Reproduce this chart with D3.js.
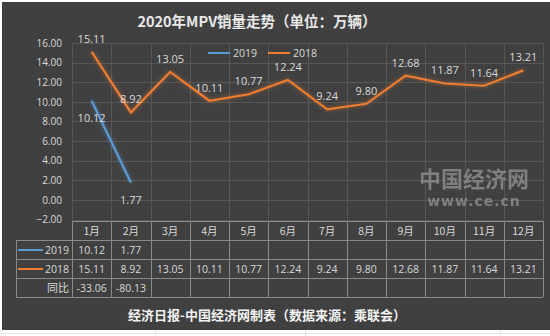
<!DOCTYPE html>
<html><head><meta charset="utf-8">
<script src="https://cdn.jsdelivr.net/npm/d3@7"></script>
<style>body{margin:0;background:#fff}svg{display:block}</style>
</head><body><svg id="c" width="550" height="336"></svg>
<script>
const months = ["1月","2月","3月","4月","5月","6月","7月","8月","9月","10月","11月","12月"];
const s2019 = [10.12, 1.77];
const s2018 = [15.11, 8.92, 13.05, 10.11, 10.77, 12.24, 9.24, 9.80, 12.68, 11.87, 11.64, 13.21];
const yoy = [-33.06, -80.13];
const yTicks = [-2,0,2,4,6,8,10,12,14,16];
const title = "2020年MPV销量走势（单位：万辆）";
const footer = "经济日报-中国经济网制表（数据来源：乘联会）";

const svg = d3.select("#c");
const numFont = "'Open Sans','Noto Sans',sans-serif";
const cjk = "'Noto Sans CJK SC',sans-serif";
const BLUE = "#5B9BD5", ORANGE = "#ED7D31";
const txt = "#d9d9d9", grid = "#575757", tbl = "#8a8a8a";

// outer excel-like grid
[20, 60, 120, 180, 240, 300].forEach(x=>{});
svg.append("line").attr("x1",0).attr("x2",550).attr("y1",333.5).attr("y2",333.5).attr("stroke","#e4e4e4");
[155, 305, 500].forEach(x=>svg.append("line").attr("x1",x+.5).attr("x2",x+.5).attr("y1",330).attr("y2",336).attr("stroke","#e4e4e4"));
svg.append("rect").attr("x",2).attr("y",2).attr("width",548).attr("height",328).attr("fill","#404040");

const defs = svg.append("defs");
function glow(id,color){
  const f = defs.append("filter").attr("id",id).attr("x","-20%").attr("y","-20%").attr("width","140%").attr("height","140%");
  f.append("feGaussianBlur").attr("in","SourceAlpha").attr("stdDeviation",2.2).attr("result","b");
  f.append("feFlood").attr("flood-color",color).attr("flood-opacity",0.55);
  f.append("feComposite").attr("in2","b").attr("operator","in").attr("result","g");
  const m = f.append("feMerge"); m.append("feMergeNode").attr("in","g"); m.append("feMergeNode").attr("in","SourceGraphic");
}
glow("gb",BLUE); glow("go",ORANGE);

const L=72, R=543, T=43, B=219.5;
const x = d3.scaleBand().domain(months).range([L,R]);
const y = d3.scaleLinear().domain([-2,16]).range([B,T]);

// title
svg.append("text").attr("x",257).attr("y",27).attr("text-anchor","middle").attr("fill","#e8e8e8")
  .attr("font-family",cjk).attr("font-weight","bold").attr("font-size",14.5).text(title);

// gridlines
svg.append("g").selectAll("line").data(yTicks).join("line")
  .attr("x1",L).attr("x2",R).attr("y1",d=>Math.round(y(d))+.5).attr("y2",d=>Math.round(y(d))+.5).attr("stroke",grid);
svg.append("g").selectAll("line").data(months.concat(["end"])).join("line")
  .attr("x1",(d,i)=>Math.round(L+i*x.bandwidth())+.5).attr("x2",(d,i)=>Math.round(L+i*x.bandwidth())+.5)
  .attr("y1",T).attr("y2",B).attr("stroke",grid);

// y axis labels
const yAxis = d3.axisLeft(y).tickValues(yTicks).tickFormat(d3.format(".2f")).tickSize(0).tickPadding(10);
const ya = svg.append("g").attr("transform",`translate(${L},0)`).call(yAxis);
ya.select(".domain").remove();
ya.selectAll("text").attr("fill",txt).attr("font-family",numFont).attr("font-size",10);

// watermark
svg.append("text").attr("x",474).attr("y",187).attr("text-anchor","middle").attr("fill","#8a8a8a").attr("opacity",0.85)
  .attr("font-family",cjk).attr("font-weight","bold").attr("font-size",22).text("中国经济网");
svg.append("text").attr("x",474).attr("y",206).attr("text-anchor","middle").attr("fill","#8a8a8a").attr("opacity",0.85)
  .attr("font-family","'DejaVu Sans',sans-serif").attr("font-weight","bold").attr("font-size",14).attr("letter-spacing",1).text("www.ce.cn");

// lines
const cx = d => x(d)+x.bandwidth()/2;
const line = d3.line().x((d,i)=>cx(months[i])).y(d=>y(d));
svg.append("path").datum(s2018).attr("d",line).attr("fill","none").attr("stroke",ORANGE).attr("stroke-width",2.2).attr("filter","url(#go)");
svg.append("path").datum(s2019).attr("d",line).attr("fill","none").attr("stroke",BLUE).attr("stroke-width",2.2).attr("filter","url(#gb)");

// data labels
svg.append("g").selectAll("text").data(s2018).join("text")
  .attr("x",(d,i)=>cx(months[i])).attr("y",d=>y(d)-9).attr("text-anchor","middle")
  .attr("fill",txt).attr("font-family",numFont).attr("font-size",11).text(d=>d.toFixed(2));
svg.append("g").selectAll("text").data(s2019).join("text")
  .attr("x",(d,i)=>cx(months[i])).attr("y",d=>y(d)+21).attr("text-anchor","middle")
  .attr("fill",txt).attr("font-family",numFont).attr("font-size",11).text(d=>d.toFixed(2));

// legend
const lg = svg.append("g").attr("transform","translate(0,53)");
[[BLUE,"2019",208],[ORANGE,"2018",268]].forEach(([c,t,lx])=>{
  lg.append("line").attr("x1",lx).attr("x2",lx+22).attr("y1",0).attr("y2",0).attr("stroke",c).attr("stroke-width",2);
  lg.append("text").attr("x",lx+25).attr("y",4).attr("fill",txt).attr("font-family",numFont).attr("font-size",10.5).text(t);
});

// data table
const rows = [221, 240, 259, 278, 297];
const tg = svg.append("g").attr("stroke",tbl).attr("stroke-width",1);
tg.append("line").attr("x1",L).attr("x2",R).attr("y1",rows[0]+.5).attr("y2",rows[0]+.5);
rows.slice(1).forEach(r=>tg.append("line").attr("x1",16).attr("x2",R).attr("y1",r+.5).attr("y2",r+.5));
months.concat(["end"]).forEach((m,i)=>{
  const xx = Math.round(L+i*x.bandwidth())+.5;
  tg.append("line").attr("x1",xx).attr("x2",xx).attr("y1",rows[0]).attr("y2",rows[4]);
});
tg.append("line").attr("x1",16.5).attr("x2",16.5).attr("y1",rows[1]).attr("y2",rows[4]);

svg.append("g").selectAll("text").data(months).join("text")
  .attr("x",d=>cx(d)).attr("y",rows[0]+14).attr("text-anchor","middle").attr("fill",txt)
  .attr("font-family",cjk).attr("font-size",10.5).text(d=>d);
const rowData = [[s2019,BLUE,"2019"],[s2018,ORANGE,"2018"]];
rowData.forEach(([arr,c,name],ri)=>{
  const top = rows[ri+1];
  svg.append("line").attr("x1",18).attr("x2",43).attr("y1",top+10).attr("y2",top+10).attr("stroke",c).attr("stroke-width",2);
  svg.append("text").attr("x",69).attr("y",top+14).attr("text-anchor","end").attr("fill",txt)
    .attr("font-family",numFont).attr("font-size",10.5).text(name);
  svg.append("g").selectAll("text").data(arr).join("text")
    .attr("x",(d,i)=>cx(months[i])).attr("y",top+14).attr("text-anchor","middle").attr("fill",txt)
    .attr("font-family",numFont).attr("font-size",10.5).text(d=>d.toFixed(2));
});
svg.append("text").attr("x",69).attr("y",rows[3]+14).attr("text-anchor","end").attr("fill",txt)
  .attr("font-family",cjk).attr("font-size",11).text("同比");
svg.append("g").selectAll("text").data(yoy).join("text")
  .attr("x",(d,i)=>cx(months[i])).attr("y",rows[3]+14).attr("text-anchor","middle").attr("fill",txt)
  .attr("font-family",numFont).attr("font-size",10.5).text(d=>d.toFixed(2));

// footer
svg.append("text").attr("x",267).attr("y",320).attr("text-anchor","middle").attr("fill","#f2f2f2")
  .attr("font-family",cjk).attr("font-weight","bold").attr("font-size",13).text(footer);
</script></body></html>
